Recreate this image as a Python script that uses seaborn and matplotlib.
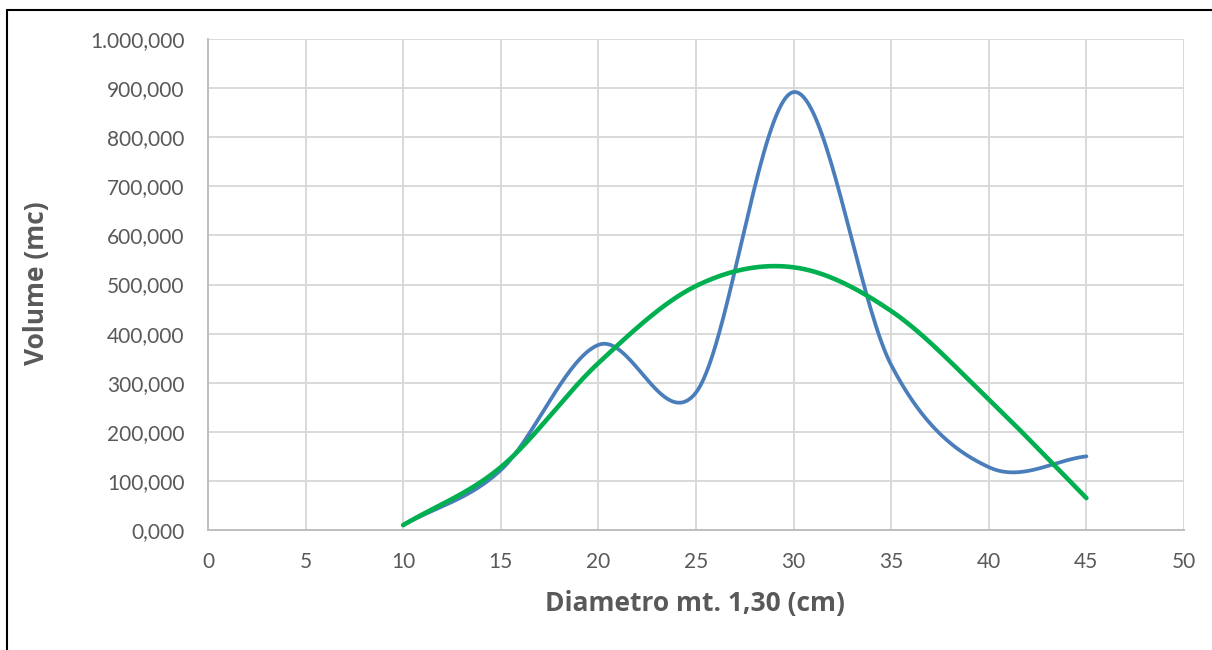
import numpy as np
import pandas as pd
import matplotlib
matplotlib.use("Agg")
import matplotlib.pyplot as plt
from matplotlib.lines import Line2D
from matplotlib.ticker import FuncFormatter
import seaborn as sns

# Diameter classes (cm) and volumes (mc)
diametro = [10, 15, 20, 25, 30, 35, 40, 45]
volume_rilevato = [10, 122, 377, 280, 892, 336, 128, 150]
volume_modello = [10, 128, 340, 497, 535, 446, 266, 65]

x_ticks = [0, 5, 10, 15, 20, 25, 30, 35, 40, 45, 50]
y_ticks = [0, 100, 200, 300, 400, 500, 600, 700, 800, 900, 1000]


def smooth_curve(xs, ys, samples=40):
    """Spreadsheet-style smoothed line (cubic Hermite / Catmull-Rom segments)."""
    xs = np.asarray(xs, float)
    ys = np.asarray(ys, float)
    n = len(xs)
    mx = np.empty(n)
    my = np.empty(n)
    for i in range(n):
        a = max(i - 1, 0)
        b = min(i + 1, n - 1)
        mx[i] = (xs[b] - xs[a]) / (b - a) if b > a else 0
        my[i] = (ys[b] - ys[a]) / (b - a) if b > a else 0
    out_x, out_y = [], []
    t = np.linspace(0, 1, samples)
    h00 = 2 * t**3 - 3 * t**2 + 1
    h10 = t**3 - 2 * t**2 + t
    h01 = -2 * t**3 + 3 * t**2
    h11 = t**3 - t**2
    for i in range(n - 1):
        sx = h00 * xs[i] + h10 * mx[i] + h01 * xs[i + 1] + h11 * mx[i + 1]
        sy = h00 * ys[i] + h10 * my[i] + h01 * ys[i + 1] + h11 * my[i + 1]
        if i > 0:
            sx, sy = sx[1:], sy[1:]
        out_x.extend(sx)
        out_y.extend(sy)
    return np.array(out_x), np.array(out_y)


def volume_label(v, pos):
    whole = f"{int(round(v)):,}".replace(",", ".")
    return f"{whole},000"


sns.set_theme(style="white")
plt.rcParams["font.family"] = ["Lato", "DejaVu Sans"]

fig = plt.figure(figsize=(12.12, 6.5), dpi=100)
ax = fig.add_axes([208 / 1212, 1 - 530 / 650, (1184 - 208) / 1212, (530 - 39) / 650])

frames = []
for name, ys in [("rilevato", volume_rilevato), ("modello", volume_modello)]:
    sx, sy = smooth_curve(diametro, ys)
    frames.append(pd.DataFrame({"x": sx, "y": sy, "serie": name}))
df = pd.concat(frames, ignore_index=True)

palette = {"rilevato": "#4A7EBB", "modello": "#00B050"}
sns.lineplot(data=df[df.serie == "rilevato"], x="x", y="y", sort=False, estimator=None,
             color=palette["rilevato"], linewidth=2.7, ax=ax, legend=False,
             solid_capstyle="round", zorder=3)
sns.lineplot(data=df[df.serie == "modello"], x="x", y="y", sort=False, estimator=None,
             color=palette["modello"], linewidth=3.3, ax=ax, legend=False,
             solid_capstyle="round", zorder=4)

ax.set_xlim(0, 50)
ax.set_ylim(0, 1000)
ax.set_xticks(x_ticks)
ax.set_yticks(y_ticks)
ax.yaxis.set_major_formatter(FuncFormatter(volume_label))
ax.grid(True, color="#D9D9D9", linewidth=1.4)
ax.set_axisbelow(True)
for side in ["top", "right"]:
    ax.spines[side].set_visible(False)
for side in ["left", "bottom"]:
    ax.spines[side].set_color("#BFBFBF")
    ax.spines[side].set_linewidth(1.4)
ax.tick_params(axis="y", length=0, labelsize=15, colors="#595959", pad=17)
ax.tick_params(axis="x", length=0, labelsize=15, colors="#595959", pad=16)
ax.set_xlabel("")
ax.set_ylabel("")

title_font = dict(family=["Open Sans", "DejaVu Sans"], fontsize=19,
                  fontweight="bold", color="#595959", ha="center", va="center")
fig.text(695 / 1212, 1 - 604 / 650, "Diametro mt. 1,30 (cm)", **title_font)
fig.text(37 / 1212, 1 - 283 / 650, "Volume (mc)", rotation=90, **title_font)

# thin black frame along the top and left borders
fig.add_artist(Line2D([7 / 1212, 7 / 1212], [0, 1 - 10 / 650], transform=fig.transFigure,
                      color="black", linewidth=1.5))
fig.add_artist(Line2D([7 / 1212, 1], [1 - 10 / 650, 1 - 10 / 650], transform=fig.transFigure,
                      color="black", linewidth=1.5))

fig.savefig("out.png", dpi=100, facecolor="white")
